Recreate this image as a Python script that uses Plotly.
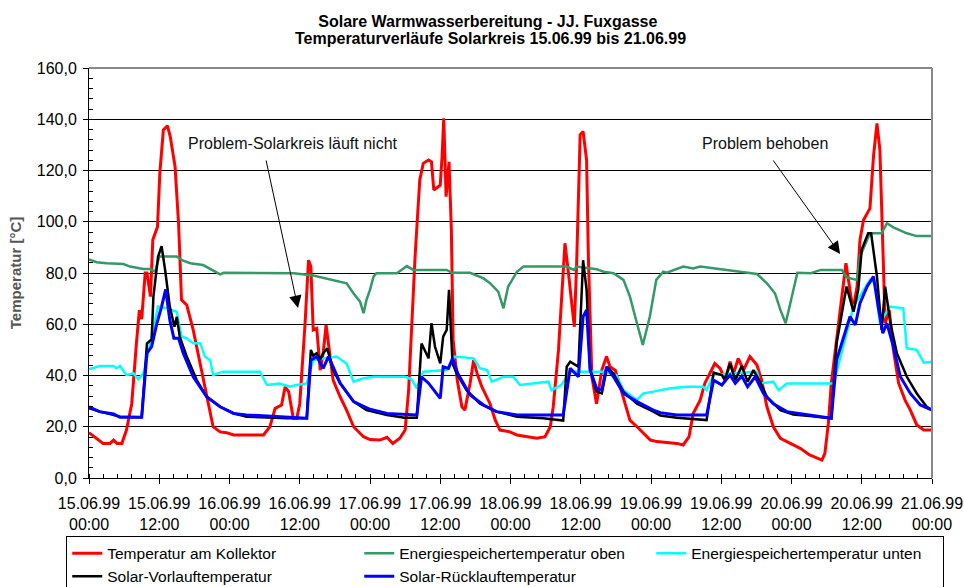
"""Solare Warmwasserbereitung - Temperaturverläufe Solarkreis 15.06.99 bis 21.06.99."""

import pandas as pd
import plotly.graph_objects as go

START = pd.Timestamp("1999-06-15 00:00")

# (hours since start, °C)
KOLLEKTOR = [
    (0, 17.7), (1, 16.0), (2.4, 13.5), (3.6, 13.5), (4.2, 14.8), (4.8, 13.5), (5.6, 13.5),
    (6.4, 18.7), (7.3, 29), (8.1, 52.5), (8.6, 65.5), (9.0, 62), (9.6, 80), (9.9, 80),
    (10.5, 70.8), (10.9, 93), (11.7, 98), (12.1, 119), (12.7, 135.8), (13.4, 137.5),
    (13.9, 133), (14.7, 121.5), (15.3, 99.4), (15.8, 69.5), (16.7, 67.5), (17.8, 57.8),
    (19.0, 44.7), (20.1, 33), (21.2, 20), (22.4, 18), (23.5, 17.7), (24.7, 16.8),
    (26.9, 16.8), (29.8, 16.8), (30.9, 20), (31.8, 27.2), (32.9, 28.5), (33.5, 35.6),
    (34.1, 33.7), (34.9, 23.3), (35.5, 23.3), (36.0, 29), (36.9, 60), (37.5, 85),
    (37.9, 82.5), (38.3, 57.8), (38.9, 58.4), (39.5, 42.1), (40.0, 48.7), (40.5, 59.7),
    (40.9, 52.5), (41.7, 38.2), (42.9, 31.7), (44.0, 26.5), (45.2, 20), (46.9, 16.1),
    (48.0, 15.0), (49.7, 14.8), (50.9, 15.9), (51.9, 13.5), (53.1, 15.5), (54.0, 18.7),
    (54.6, 34.3), (55.1, 60.4), (55.7, 86.4), (56.5, 116.3), (57.1, 122.8), (58.0, 124.1),
    (58.5, 123.4), (58.9, 112.4), (60.0, 114.3), (60.3, 125), (60.6, 140.4), (61.0, 109.8),
    (61.5, 123.4), (61.9, 96.8), (62.2, 53.9), (62.9, 38.2), (63.7, 27.8), (64.2, 26.5),
    (65.1, 37), (65.7, 46), (66.3, 40.8), (67.1, 35.6), (68.5, 29), (69.4, 22.6),
    (70.2, 18.7), (71.9, 18), (73.1, 16.8), (76.5, 15.5), (77.9, 16.1), (78.8, 20),
    (79.3, 27.8), (80.2, 50), (80.7, 70.8), (81.3, 91.6), (81.9, 80), (82.5, 65.6),
    (82.9, 59), (83.3, 83.8), (83.9, 133.9), (84.4, 135.2), (85.0, 124.1), (85.3, 86.4),
    (85.9, 39.5), (86.7, 29), (87.6, 42.1), (88.4, 47.4), (89.0, 43.4), (89.9, 42.1),
    (91.3, 31.7), (92.4, 22.6), (93.6, 20), (94.7, 17.4), (95.9, 14.8), (97.0, 14.2),
    (99.3, 13.8), (100.4, 13.5), (101.5, 12.9), (102.5, 16.1), (103.2, 25.2), (104.4, 30.4),
    (105.2, 37), (106.1, 40.8), (106.9, 44.7), (107.8, 42.8), (108.7, 38.2), (109.5, 45.4),
    (110.1, 40.8), (110.9, 46.7), (111.8, 42.1), (112.9, 47.4), (114.1, 44.1), (114.9, 38.2),
    (115.8, 27.8), (116.9, 20), (118.1, 15.5), (119.8, 13.5), (121.5, 11.6), (123.1, 9),
    (124.3, 7.7), (125.2, 7), (125.7, 9.6), (126.3, 21.3), (126.8, 37), (127.7, 55.2),
    (128.6, 70.8), (129.3, 83.8), (129.7, 77.3), (130.5, 65.6), (131.2, 74.7), (131.7, 92.9),
    (132.3, 100.7), (133.4, 105.2), (134.0, 125.4), (134.6, 138.4), (135.1, 128),
    (135.6, 92.9), (136.0, 60.4), (136.7, 65.6), (137.4, 50), (138.3, 37), (139.4, 30.4),
    (140.3, 26.5), (141.4, 20.7), (142.6, 18.7), (144, 18.7),
]

SPEICHER_OBEN = [
    (0, 85.3), (1.3, 84.2), (3.0, 83.8), (5.9, 83.5), (7.0, 82.5), (9.3, 81.6), (10.4, 81.6),
    (11.3, 80.5), (12.0, 86.4), (15.0, 86.4), (16.1, 84.8), (17.3, 83.8), (19.5, 83.1),
    (20.9, 81.2), (22.4, 79.5), (23.0, 80.1), (26.9, 80.1), (33.8, 80.1), (35.0, 79.9),
    (38.3, 79.0), (40.6, 77.9), (42.3, 76.9), (44.0, 76.0), (45.2, 72), (46.3, 68.8),
    (46.9, 64.3), (47.4, 69.5), (48.0, 73.4), (48.6, 78.6), (49.1, 79.9), (52.6, 79.9),
    (54.3, 82.7), (55.4, 81.2), (61.1, 81.2), (62.0, 80.1), (65.1, 80.1), (67.4, 77.9),
    (68.5, 76), (69.9, 72.7), (70.8, 66.2), (71.6, 74.7), (73.1, 80.5), (74.2, 82.5),
    (81.6, 82.5), (82.8, 81.2), (83.3, 82.5), (86.7, 81.5), (87.9, 80.5), (89.6, 79.9),
    (91.3, 77.3), (92.4, 70.8), (93.6, 60.4), (94.6, 51.9), (95.8, 63), (96.9, 77.3),
    (98.1, 80.5), (98.7, 80.1), (101.5, 82.5), (103.2, 81.8), (104.4, 82.5), (109.0, 81.2),
    (111.2, 80.5), (114.1, 79.6), (115.8, 76), (117.2, 72), (118.1, 65.6), (119.0, 60.4),
    (119.8, 68.2), (121.0, 80.1), (123.3, 79.9), (125.0, 81.2), (128.6, 81.2), (129.4, 78.3),
    (131.2, 77.3), (131.7, 86.4), (133.4, 95.5), (135.4, 95.5), (136.3, 99.4), (137.4, 97.8),
    (139.7, 95.5), (141.4, 94.4), (144, 94.4),
]

SPEICHER_UNTEN = [
    (0, 42.4), (1.8, 43.7), (4.2, 43.7), (4.7, 42.8), (5.3, 43.7), (6.4, 40.2), (7.6, 40.8),
    (8.4, 38.5), (9.3, 40.8), (11.8, 66.9), (13.3, 66.2), (15.0, 64.9), (15.8, 55.2),
    (16.7, 54.5), (17.8, 52.6), (19.0, 52.6), (19.8, 47.4), (20.7, 46), (21.2, 40.2),
    (22.9, 41.5), (29.2, 41.5), (30.4, 36.3), (32.6, 36.9), (34.3, 35.6), (35.5, 36.3),
    (37.2, 36.9), (38.3, 46), (42.3, 47.4), (44.0, 44.7), (45.2, 37.6), (46.9, 38.9),
    (48.6, 39.5), (54.0, 39.5), (55.1, 38.5), (56.0, 35), (57.1, 41.5), (61.1, 42.1),
    (62.5, 47.4), (65.7, 46.7), (66.8, 42.8), (68.0, 42.1), (68.8, 37.6), (70.8, 39.5),
    (72.5, 39.5), (73.6, 36.3), (78.5, 37.6), (79.0, 34.3), (80.7, 36.3), (82.2, 41.5),
    (87.7, 41.5), (90.1, 40.2), (91.3, 34.3), (93.6, 30.4), (94.7, 33), (96.4, 33.7),
    (98.1, 34.3), (99.3, 35), (102.1, 35.6), (104.9, 35.6), (105.5, 34.3), (106.7, 40.2),
    (114.1, 41.5), (114.6, 36.9), (116.9, 37.6), (117.8, 34.3), (119.2, 36.9), (127.2, 36.9),
    (130.6, 66.9), (133.4, 77.3), (134.3, 76), (135.1, 60.4), (136.8, 66.9), (139.1, 66.2),
    (139.7, 50.6), (141.4, 50), (142.6, 45), (144, 45.4),
]

VORLAUF = [
    (0, 27.2), (1.8, 25.9), (3.6, 25), (5.3, 23.9), (9.0, 23.7), (9.9, 52.5), (10.7, 54.1),
    (11.0, 70.8), (11.8, 86.4), (12.4, 90.5), (13.0, 81.2), (13.8, 66.9), (14.6, 59),
    (15.0, 62.9), (15.5, 55.2), (16.7, 47.4), (18.4, 38.2), (20.1, 31.7), (22.4, 27.8),
    (24.7, 25.2), (26.9, 23.9), (33.8, 23.3), (37.2, 23.3), (37.9, 50), (38.3, 47.8),
    (38.9, 48.7), (39.5, 46.3), (40.0, 48.7), (40.7, 50.6), (41.7, 42.1), (42.9, 37),
    (45.2, 29.8), (47.4, 26.5), (48.0, 26.2), (50.9, 24.6), (53.9, 23.5), (56.0, 23.5),
    (56.8, 52.5), (58.0, 46.7), (58.5, 60.4), (59.1, 51.3), (60.0, 44.7), (60.5, 55.2),
    (61.1, 57.8), (61.5, 73.4), (62.1, 44.7), (62.8, 40.8), (64.5, 34.3), (66.8, 29),
    (69.6, 25.9), (73.1, 23.9), (77.6, 23.3), (81.0, 22.4), (81.6, 43.4), (82.2, 45.4),
    (83.6, 43.4), (84.4, 85), (85.0, 73.4), (85.6, 42.1), (86.7, 33.7), (87.6, 33),
    (88.5, 43.4), (89.6, 40.8), (91.3, 33.7), (93.6, 29), (96.4, 25.9), (97.6, 24.4),
    (100.4, 23.5), (105.5, 22.6), (106.7, 41.1), (108.1, 40.2), (108.6, 38.2), (109.5, 44.7),
    (110.4, 38.2), (111.5, 43.7), (112.5, 37.6), (113.5, 42.1), (114.6, 37.6), (115.8, 31.7),
    (118.1, 26.5), (120.3, 24.8), (123.1, 24.2), (126.8, 23.3), (127.7, 52.5), (129.4, 74.7),
    (130.6, 64.9), (131.4, 73.4), (132.0, 89.2), (133.1, 95.5), (133.6, 95.5), (134.6, 78.6),
    (135.4, 57.8), (136.0, 74.7), (136.9, 60.4), (138.0, 48.7), (139.7, 39.5), (141.4, 33),
    (143.1, 27.8), (144, 26.5),
]

RUECKLAUF = [
    (0, 27.8), (1.8, 25.9), (4.2, 25), (5.3, 23.7), (9.0, 23.7), (9.9, 48.7), (10.7, 51.3),
    (11.6, 60.4), (12.4, 66.9), (13.1, 73.6), (13.8, 61.7), (14.5, 54.5), (15.3, 54.5),
    (16.1, 48.7), (17.8, 39.5), (20.1, 31.7), (22.4, 27.8), (24.7, 25.2), (26.9, 24.6),
    (30.4, 24.2), (37.2, 23.3), (37.9, 46), (38.9, 47.4), (40.0, 42.8), (40.9, 47.4),
    (41.7, 43.4), (42.9, 37), (45.2, 29.8), (47.4, 27.2), (48.0, 26.8), (50.9, 25.2),
    (56.0, 24.6), (56.8, 39.5), (58.0, 37), (60.0, 31.1), (60.5, 43.4), (61.4, 42.8),
    (62.1, 46.7), (63.0, 40.8), (65.1, 32.4), (67.4, 28.5), (69.6, 25.9), (73.1, 24.6),
    (81.0, 24.6), (82.2, 42.8), (83.6, 39.5), (84.4, 63), (85.0, 65.6), (85.6, 42.1),
    (86.7, 35), (87.6, 34.3), (88.4, 43.4), (89.6, 39.5), (91.3, 33), (93.6, 29.8),
    (96.4, 26.5), (97.6, 25.5), (100.4, 24.6), (105.5, 24.6), (106.7, 38.2), (108.1, 36.3),
    (109.5, 40.2), (110.4, 37), (111.5, 39.8), (112.5, 35.6), (113.8, 39.5), (115.2, 33),
    (116.9, 29), (119.2, 25.9), (123.1, 24.6), (126.8, 23.3), (127.7, 46), (128.9, 55.2),
    (130.0, 63), (130.9, 59.7), (131.7, 68.2), (132.9, 74.7), (134.0, 78.6), (134.8, 66.9),
    (135.6, 56.5), (136.3, 60.4), (137.4, 51.3), (138.6, 39.5), (140.3, 33), (142.0, 28.5),
    (144, 26.5),
]

SERIES = [
    ("Temperatur am Kollektor", KOLLEKTOR, "#FF0000", 3),
    ("Energiespeichertemperatur oben", SPEICHER_OBEN, "#339966", 2.5),
    ("Energiespeichertemperatur unten", SPEICHER_UNTEN, "#00FFFF", 2.5),
    ("Solar-Vorlauftemperatur", VORLAUF, "#000000", 2.5),
    ("Solar-Rücklauftemperatur", RUECKLAUF, "#0000FF", 3),
]

TITLE_1 = "Solare Warmwasserbereitung - JJ. Fuxgasse"
TITLE_2 = "Temperaturverläufe Solarkreis 15.06.99 bis 21.06.99"

FONT = "Liberation Sans, Arial, sans-serif"


def _t(hours):
    return START + pd.to_timedelta(hours, unit="h")


fig = go.Figure()
for name, pts, color, width in SERIES:
    hours = [p[0] for p in pts]
    vals = [p[1] for p in pts]
    fig.add_trace(go.Scatter(
        x=_t(pd.Series(hours)), y=vals, name=name, mode="lines",
        line=dict(color=color, width=width),
    ))

# second title line (tighter line spacing than a <br> title)
fig.add_annotation(x=0.476, y=1.071, xref="paper", yref="paper", text=f"<b>{TITLE_2}</b>",
                   showarrow=False, font=dict(size=16), xanchor="center", yanchor="middle")

# annotations: text labels and separate arrows
fig.add_annotation(x=_t(34.85), y=130.7, text="Problem-Solarkreis läuft nicht",
                   showarrow=False, font=dict(size=16, color="#111"))
fig.add_annotation(x=_t(115.5), y=130.7, text="Problem behoben",
                   showarrow=False, font=dict(size=16, color="#111"))
for tail_h, tail_v, head_h, head_v in [(30.2, 124.5, 35.7, 66.3), (116.7, 124.5, 128.3, 87.4)]:
    fig.add_annotation(
        x=_t(head_h), y=head_v, ax=_t(tail_h), ay=tail_v, axref="x", ayref="y",
        text="", showarrow=True, arrowhead=2, arrowsize=2.5, arrowwidth=1,
        arrowcolor="#000", standoff=0,
    )

# grey top/right frame of the plot area
fig.add_shape(type="line", xref="paper", yref="paper", x0=0, x1=1, y0=1, y1=1,
              line=dict(color="#888", width=2))
fig.add_shape(type="line", xref="paper", yref="paper", x0=1, x1=1, y0=0, y1=1,
              line=dict(color="#888", width=2))

fig.update_layout(
    width=964, height=587,
    margin=dict(l=89, r=32, t=68, b=109, autoexpand=False),
    paper_bgcolor="white", plot_bgcolor="white",
    separators=",.",
    font=dict(family=FONT, size=16, color="#000"),
    title=dict(
        text=f"<b>{TITLE_1}</b>",
        x=0.506, xanchor="center", y=0.964, yanchor="middle",
        font=dict(size=16, family=FONT),
    ),
    showlegend=True,
    legend=dict(
        orientation="h", x=-0.027, xanchor="left", y=-0.1405, yanchor="top",
        bgcolor="white", bordercolor="#000", borderwidth=1,
        entrywidth=247, entrywidthmode="pixels",
        font=dict(size=15.5, family=FONT), tracegroupgap=0,
    ),
    xaxis=dict(
        type="date", range=[_t(0), _t(144)], automargin=False,
        dtick=12 * 3600 * 1000, tick0=_t(0), tickformat="%d.%m.%y<br>%H:%M",
        ticks="outside", ticklen=5, tickcolor="#000", ticklabelstandoff=6,
        showline=True, linecolor="#000", linewidth=1,
        showgrid=False, zeroline=False,
        minor=dict(dtick=2.4 * 3600 * 1000, ticks="inside", ticklen=4, tickcolor="#000"),
        tickfont=dict(size=16),
    ),
    yaxis=dict(
        range=[0, 160], dtick=20, tickformat=".1f", automargin=False,
        ticks="outside", ticklen=5, tickcolor="#000", ticklabelstandoff=3,
        showline=True, linecolor="#000", linewidth=1,
        showgrid=True, gridcolor="#000", gridwidth=1, zeroline=False,
        minor=dict(dtick=4, ticks="inside", ticklen=4, tickcolor="#000", showgrid=False),
        tickfont=dict(size=16),
        title=dict(text="<b>Temperatur [°C]</b>", font=dict(size=15, color="#555"), standoff=11),
    ),
)

# drop the default page margin so the figure sits at the window's top-left corner
fig.write_html(
    "out.html",
    config={"displayModeBar": False},
    post_script="document.body.style.margin='0px';",
)
